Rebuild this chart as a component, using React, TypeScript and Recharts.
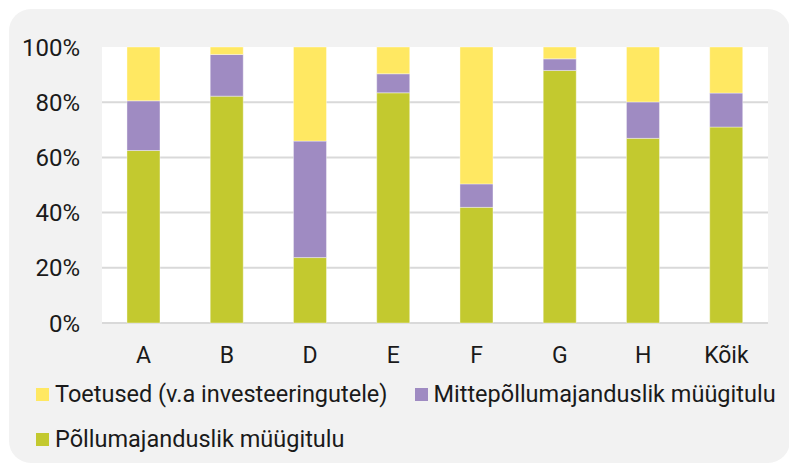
import { BarChart, Bar, XAxis, YAxis, CartesianGrid } from "recharts";

const CATEGORIES = ["A", "B", "D", "E", "F", "G", "H", "Kõik"];

// Shares of income, percent (bottom to top in the stack).
const POLLU = [62.5, 82.2, 23.7, 83.4, 41.9, 91.5, 66.9, 71.0];
const MITTE = [18.0, 15.1, 42.2, 6.9, 8.5, 4.2, 13.2, 12.3];
const TOETUS = [19.5, 2.7, 34.1, 9.7, 49.6, 4.3, 19.9, 16.7];

const Y_TICKS = [0, 20, 40, 60, 80, 100];

const SERIES = [
  { key: "toetus", name: "Toetused (v.a investeeringutele)", color: "#FFE862" },
  { key: "mitte", name: "Mittepõllumajanduslik müügitulu", color: "#9F8BC2" },
  { key: "pollu", name: "Põllumajanduslik müügitulu", color: "#C3C92F" },
];

const FONT = "Roboto, 'Noto Sans', sans-serif";
const TEXT = "#1a1a1a";

const data = CATEGORIES.map((c, i) => ({
  name: c,
  pollu: POLLU[i],
  mitte: MITTE[i],
  toetus: TOETUS[i],
}));

const colorOf = (key: string) => SERIES.find((s) => s.key === key)!.color;

export default function App() {
  return (
    <div
      style={{
        position: "absolute",
        left: 9,
        top: 9,
        width: 781,
        height: 454,
        background: "#f2f2f2",
        borderRadius: 22,
        overflow: "hidden",
        fontFamily: FONT,
      }}
    >
      <BarChart
        width={781}
        height={380}
        data={data}
        margin={{ top: 38, right: 22, bottom: 36, left: 0 }}
        barCategoryGap="30%"
      >
        <CartesianGrid
          vertical={false}
          fill="#ffffff"
          stroke="#d9d9d9"
          strokeWidth={2}
          horizontalValues={[0, 20, 40, 60, 80]}
        />
        <XAxis
          dataKey="name"
          axisLine={false}
          tickLine={false}
          tickMargin={18}
          tick={{ fontSize: 23, fill: TEXT, fontFamily: FONT }}
        />
        <YAxis
          width={93}
          domain={[0, 100]}
          ticks={Y_TICKS}
          tickFormatter={(v: number) => `${v}%`}
          axisLine={false}
          tickLine={false}
          tickMargin={16}
          tick={{ fontSize: 24, fill: TEXT, fontFamily: FONT }}
        />
        <Bar dataKey="pollu" stackId="s" fill={colorOf("pollu")} stroke="#ffffff" strokeOpacity={0.5} strokeWidth={0.75} isAnimationActive={false} />
        <Bar dataKey="mitte" stackId="s" fill={colorOf("mitte")} stroke="#ffffff" strokeOpacity={0.5} strokeWidth={0.75} isAnimationActive={false} />
        <Bar dataKey="toetus" stackId="s" fill={colorOf("toetus")} stroke="#ffffff" strokeOpacity={0.5} strokeWidth={0.75} isAnimationActive={false} />
      </BarChart>

      <div
        style={{
          position: "absolute",
          left: 27,
          top: 363,
          width: 770,
          display: "flex",
          flexWrap: "wrap",
          columnGap: 27,
          fontSize: 23.5,
          lineHeight: "45px",
          color: TEXT,
        }}
      >
        {SERIES.map((s) => (
          <div key={s.key} style={{ display: "flex", alignItems: "center", whiteSpace: "nowrap" }}>
            <span style={{ width: 13, height: 13, background: s.color, marginRight: 6, display: "inline-block" }} />
            <span>{s.name}</span>
          </div>
        ))}
      </div>
    </div>
  );
}
